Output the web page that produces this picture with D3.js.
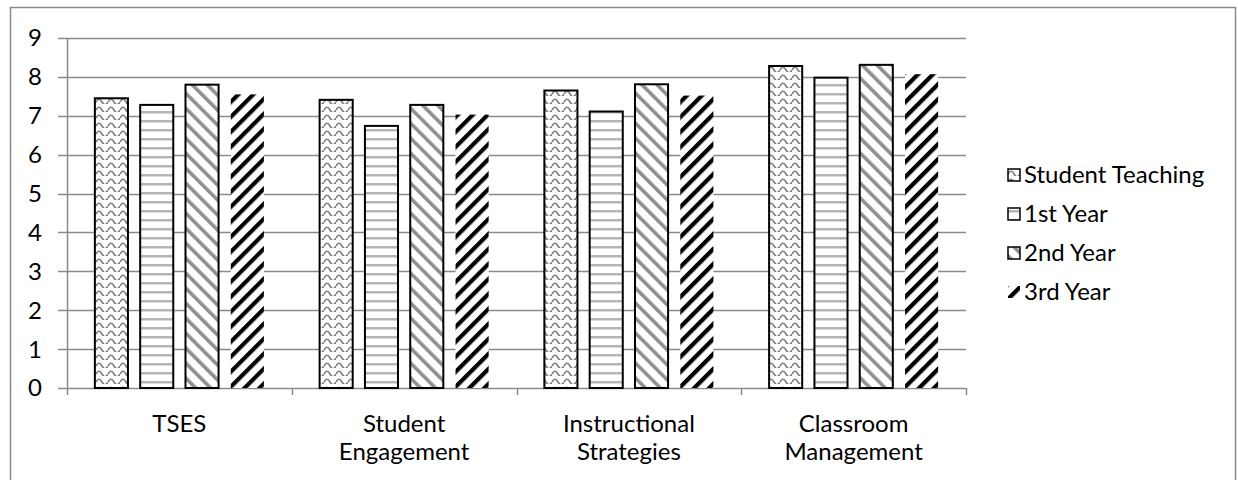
<!DOCTYPE html>
<html><head><meta charset="utf-8">
<script src="https://cdn.jsdelivr.net/npm/d3@7"></script>
<style>
html,body{margin:0;padding:0;background:#fff;}
svg text{font-family:Lato,"Open Sans",sans-serif;fill:#000;}
</style></head>
<body>
<svg id="c" width="1238" height="480"></svg>
<script>
const categories = [["TSES"],["Student","Engagement"],["Instructional","Strategies"],["Classroom","Management"]];
const series = ["Student Teaching","1st Year","2nd Year","3rd Year"];
const studentTeaching = [7.45, 7.41, 7.65, 8.28];
const year1 = [7.28, 6.74, 7.11, 7.98];
const year2 = [7.80, 7.28, 7.81, 8.31];
const year3 = [7.55, 7.03, 7.52, 8.07];
const yTicks = [0,1,2,3,4,5,6,7,8,9];

const values = [studentTeaching, year1, year2, year3];
const svg = d3.select("#c");
const m = {left:67, right:966, top:38, bottom:388};
const FS = 24;

const defs = svg.append("defs");
// wave
const p0 = defs.append("pattern").attr("id","p0").attr("patternUnits","userSpaceOnUse").attr("width",12).attr("height",8);
p0.append("rect").attr("width",12).attr("height",8).attr("fill","#fff");
p0.append("path").attr("d","M0,6 Q3,0.5 6,6 T12,6").attr("fill","none").attr("stroke","#7f7f7f").attr("stroke-width",1.7);
// horizontal
const p1 = defs.append("pattern").attr("id","p1").attr("patternUnits","userSpaceOnUse").attr("width",8).attr("height",9);
p1.append("rect").attr("width",8).attr("height",9).attr("fill","#fff");
p1.append("rect").attr("y",3).attr("width",8).attr("height",2.5).attr("fill","#b5b5b5");
// diag backslash gray
const p2 = defs.append("pattern").attr("id","p2").attr("patternUnits","userSpaceOnUse").attr("width",10.6).attr("height",10).attr("patternTransform","rotate(-45)");
p2.append("rect").attr("width",10.6).attr("height",10).attr("fill","#fff");
p2.append("rect").attr("x",0).attr("width",3.6).attr("height",10).attr("fill","#8f8f8f");
// diag slash black
const p3 = defs.append("pattern").attr("id","p3").attr("patternUnits","userSpaceOnUse").attr("width",10.6).attr("height",10).attr("patternTransform","rotate(45)");
p3.append("rect").attr("width",10.6).attr("height",10).attr("fill","#fff");
p3.append("rect").attr("x",0).attr("width",4.2).attr("height",10).attr("fill","#000");

const fills = ["url(#p0)","url(#p1)","url(#p2)","url(#p3)"];
const strokes = ["#000","#000","#000","none"];

// frame
svg.append("rect").attr("x",10.5).attr("y",7.5).attr("width",1225).attr("height",480).attr("fill","none").attr("stroke","#8a8a8a").attr("stroke-width",1.5);

const y = d3.scaleLinear().domain([0,9]).range([m.bottom, m.top]);
const x0 = d3.scaleBand().domain(d3.range(categories.length)).range([m.left, m.right]).padding(0);
const x1 = d3.scaleBand().domain(d3.range(series.length)).range([0, x0.bandwidth()]).paddingInner(0.27).paddingOuter(0.615);

// gridlines
svg.append("g").selectAll("line").data(yTicks).join("line")
  .attr("x1", m.left-9).attr("x2", m.right)
  .attr("y1", d=>Math.round(y(d))+0.5).attr("y2", d=>Math.round(y(d))+0.5)
  .attr("stroke","#8a8a8a").attr("stroke-width",1.5);
// y axis line
svg.append("line").attr("x1",m.left+0.5).attr("x2",m.left+0.5).attr("y1",m.top).attr("y2",m.bottom)
  .attr("stroke","#8a8a8a").attr("stroke-width",1.5);
// y labels
svg.append("g").selectAll("text").data(yTicks).join("text")
  .attr("x", 42).attr("y", d=>y(d)).attr("dy","0.35em").attr("text-anchor","end")
  .attr("font-size",FS).text(d=>d);
// x ticks
const bounds = d3.range(categories.length+1).map(i=> i<categories.length ? x0(i) : m.right);
svg.append("g").selectAll("line").data(bounds).join("line")
  .attr("x1", d=>Math.round(d)+0.5).attr("x2", d=>Math.round(d)+0.5)
  .attr("y1", m.bottom).attr("y2", m.bottom+7)
  .attr("stroke","#8a8a8a").attr("stroke-width",1.5);

// bars
const g = svg.append("g");
series.forEach((s,si)=>{
  g.append("g").selectAll("rect").data(values[si]).join("rect")
    .attr("x",(d,i)=>x0(i)+x1(si)).attr("width",x1.bandwidth())
    .attr("y",d=>y(d)).attr("height",d=>y(0)-y(d))
    .attr("fill",fills[si]).attr("stroke",strokes[si]).attr("stroke-width",2);
});

// x labels
categories.forEach((lines,i)=>{
  const cx = x0(i)+x0.bandwidth()/2;
  const t = svg.append("text").attr("text-anchor","middle").attr("font-size",FS)
    .attr("x", cx).attr("y", 432);
  lines.forEach((l,k)=>t.append("tspan").attr("x", cx).attr("dy", k===0?0:28).text(l));
});

// legend
const lg = svg.append("g");
series.forEach((s,si)=>{
  const yy = 175 + si*39;
  lg.append("rect").attr("x",1008).attr("y",yy-6).attr("width",12).attr("height",12)
    .attr("fill",fills[si]).attr("stroke",si===3?"none":"#000").attr("stroke-width",1.5);
  lg.append("text").attr("x",1024).attr("y",yy).attr("dy","0.35em").attr("font-size",FS).text(s);
});
</script>
</body></html>
